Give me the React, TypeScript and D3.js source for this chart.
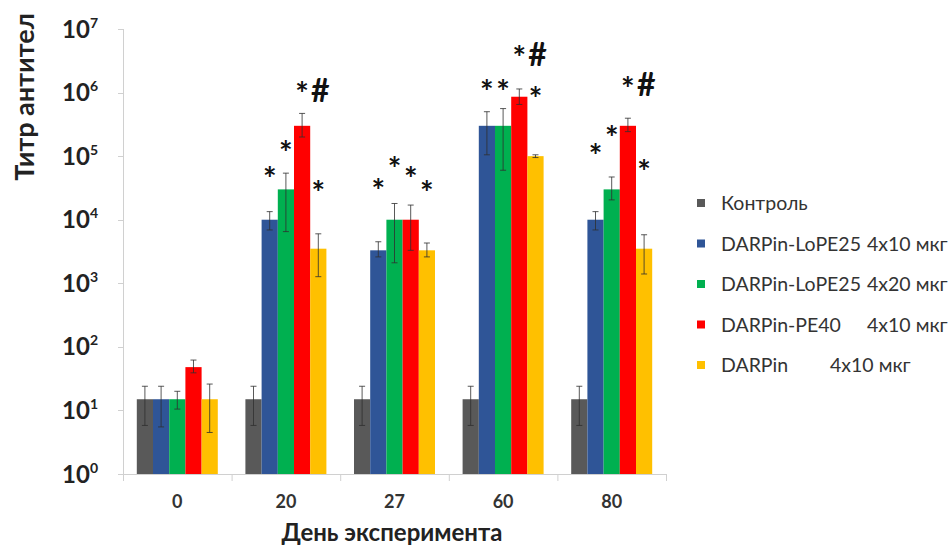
import React from "react";
import * as d3 from "d3";

const days = ["0", "20", "27", "60", "80"];
const seriesNames = [
  "Контроль",
  "DARPin-LoPE25 4x10 мкг",
  "DARPin-LoPE25 4x20 мкг",
  "DARPin-PE40 4x10 мкг",
  "DARPin 4x10 мкг",
];
const legendLeft = ["Контроль", "DARPin-LoPE25", "DARPin-LoPE25", "DARPin-PE40", "DARPin"];
const legendRight = ["", "4x10 мкг", "4x20 мкг", "4x10 мкг", "4x10 мкг"];
const colors = ["#595959", "#2f5597", "#00b050", "#ff0000", "#ffc000"];

// values per series, per day
const control = [15, 15, 15, 15, 15];
const lope10 = [15, 10000, 3300, 300000, 10000];
const lope20 = [15, 30000, 10000, 300000, 30000];
const pe40 = [48, 300000, 10000, 860000, 300000];
const darpin = [15, 3500, 3300, 100000, 3500];

const controlLow = [5.8, 5.8, 5.8, 5.8, 5.8];
const controlHigh = [24, 24, 24, 24, 24];
const lope10Low = [5.5, 6900, 2600, 105000, 6900];
const lope10High = [24, 13400, 4500, 500000, 13400];
const lope20Low = [10.5, 6500, 2100, 60000, 20500];
const lope20High = [20, 54000, 18000, 560000, 47000];
const pe40Low = [39, 200000, 3300, 650000, 243000];
const pe40High = [62, 470000, 17000, 1140000, 395000];
const darpinLow = [4.5, 1270, 2600, 95000, 1400];
const darpinHigh = [26, 6000, 4300, 105000, 5800];

const values = [control, lope10, lope20, pe40, darpin];
const lows = [controlLow, lope10Low, lope20Low, pe40Low, darpinLow];
const highs = [controlHigh, lope10High, lope20High, pe40High, darpinHigh];

// significance marks: [day index, series index, label, level (titer units)]
const marks: [number, number, string, number][] = [
  [1, 1, "*", 54000],
  [1, 2, "*", 139000],
  [1, 3, "*#", 1180000],
  [1, 4, "*", 32700],
  [2, 1, "*", 35000],
  [2, 2, "*", 79000],
  [2, 3, "*", 54000],
  [2, 4, "*", 33000],
  [3, 1, "*", 1270000],
  [3, 2, "*", 1270000],
  [3, 3, "*#", 4350000],
  [3, 4, "*", 980000],
  [4, 1, "*", 125000],
  [4, 2, "*", 243000],
  [4, 3, "*#", 1430000],
  [4, 4, "*", 71000],
];

const yTickExps = [0, 1, 2, 3, 4, 5, 6, 7];

const FONT = "Lato, 'Open Sans', 'DejaVu Sans', sans-serif";

export default function App() {
  const W = 952;
  const H = 548;
  const x0 = d3.scaleBand<string>().domain(days).range([123, 666]).paddingInner(0).paddingOuter(0);
  const x1 = d3
    .scaleBand<number>()
    .domain(d3.range(seriesNames.length))
    .range([0, x0.bandwidth()])
    .paddingInner(0)
    .paddingOuter(0.852);
  const y = d3.scaleLog().domain([1, 1e7]).range([474, 29]);
  const axisColor = "#d0d0d0";
  const starSize = 32;
  const hashSize = 32;

  return (
    <svg
      width={W}
      height={H}
      style={{ position: "absolute", left: 0, top: 0, background: "#fff" }}
      fontFamily={FONT}
    >
      {/* y axis */}
      <line x1={123.5} x2={123.5} y1={y(1e7)} y2={y(1)} stroke={axisColor} />
      {yTickExps.map((e) => (
        <g key={e}>
          <line x1={118} x2={123.5} y1={Math.round(y(10 ** e)) + 0.5} y2={Math.round(y(10 ** e)) + 0.5} stroke={axisColor} />
          <text x={98} y={y(10 ** e) + 8.5} textAnchor="end" fontSize={24} fontWeight="bold" fill="#222">
            10
            <tspan dy={-10} fontSize={14}>
              {e}
            </tspan>
          </text>
        </g>
      ))}
      <text
        transform={`translate(34,97) rotate(-90)`}
        textAnchor="middle"
        fontSize={27}
        fontWeight="bold"
        fill="#222"
      >
        Титр антител
      </text>

      {/* x axis */}
      <line x1={123} x2={666} y1={474.5} y2={474.5} stroke={axisColor} />
      {[...days.map((d) => x0(d) as number), 666].map((v, i) => (
        <line key={i} x1={v + 0.5} x2={v + 0.5} y1={474} y2={481} stroke={axisColor} />
      ))}
      {days.map((d) => (
        <text
          key={d}
          x={(x0(d) as number) + x0.bandwidth() / 2}
          y={508}
          textAnchor="middle"
          fontSize={18}
          fontWeight="bold"
          fill="#333"
        >
          {d}
        </text>
      ))}
      <text x={392} y={541} textAnchor="middle" fontSize={24} fontWeight="bold" fill="#222">
        День эксперимента
      </text>

      {/* bars */}
      {values.map((vals, s) =>
        vals.map((v, i) => {
          const bx = (x0(days[i]) as number) + (x1(s) as number);
          return (
            <rect
              key={`${s}-${i}`}
              x={bx}
              y={y(v)}
              width={x1.bandwidth()}
              height={y(1) - y(v)}
              fill={colors[s]}
            />
          );
        })
      )}

      {/* error bars */}
      {values.map((vals, s) =>
        vals.map((v, i) => {
          const cx = (x0(days[i]) as number) + (x1(s) as number) + x1.bandwidth() / 2;
          const lo = y(lows[s][i]);
          const hi = y(highs[s][i]);
          return (
            <g key={`e${s}-${i}`} stroke="#303030" strokeWidth={1} strokeOpacity={0.8}>
              <line x1={cx} x2={cx} y1={lo} y2={hi} />
              <line x1={cx - 3} x2={cx + 3} y1={hi} y2={hi} />
              <line x1={cx - 3} x2={cx + 3} y1={lo} y2={lo} />
            </g>
          );
        })
      )}

      {/* significance marks */}
      {marks.map(([di, s, label, lvl], k) => {
        const cx = (x0(days[di]) as number) + (x1(s) as number) + x1.bandwidth() / 2;
        const cy = y(lvl);
        return (
          <g key={k} fontWeight="bold" fill="#111">
            <text x={cx} y={cy + starSize * 0.56} textAnchor="middle" fontSize={starSize}>
              {label[0]}
            </text>
            {label.length > 1 && (
              <text x={cx + 9} y={cy + 2 + hashSize * 0.36} fontSize={hashSize}>
                {label.slice(1)}
              </text>
            )}
          </g>
        );
      })}

      {/* legend */}
      {seriesNames.map((n, s) => {
        const ly = 203 + s * 40.5;
        return (
          <g key={n}>
            <rect x={697} y={ly - 4} width={8} height={8} fill={colors[s]} />
            <text x={721} y={ly + 7} fontSize={19.5} fill="#333">
              {legendLeft[s]}
            </text>
            {legendRight[s] && (
              <text x={s === 4 ? 830 : 867} y={ly + 7} fontSize={19.5} fill="#333">
                {legendRight[s]}
              </text>
            )}
          </g>
        );
      })}
    </svg>
  );
}
